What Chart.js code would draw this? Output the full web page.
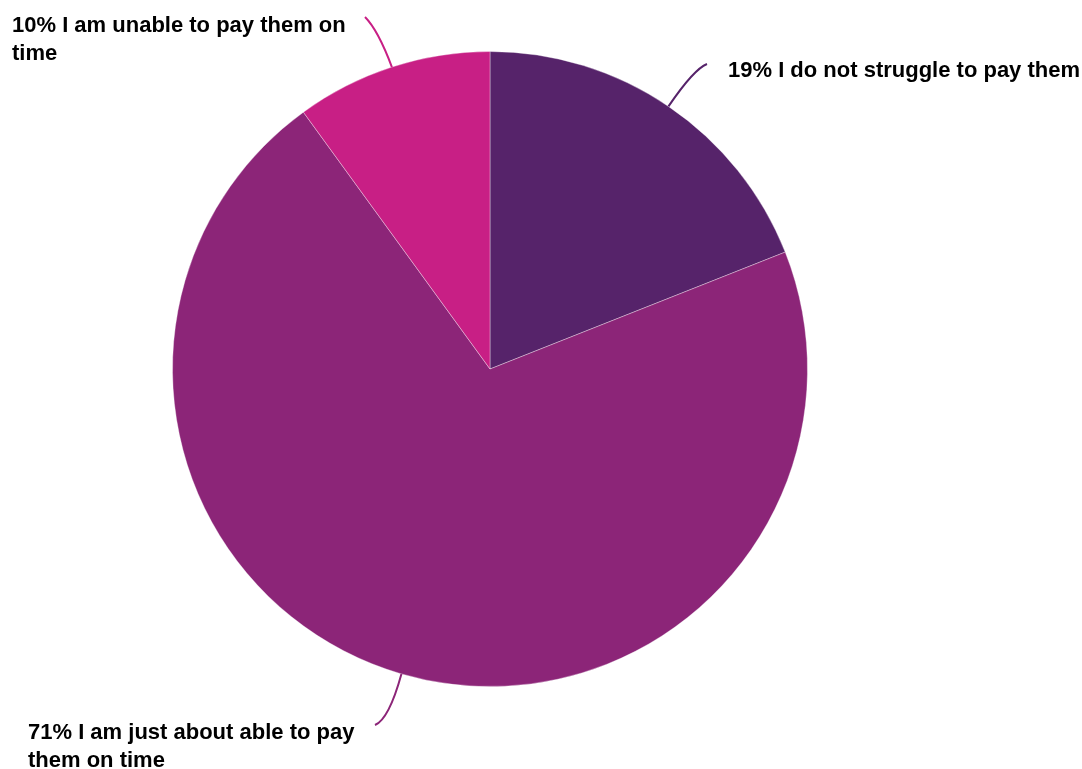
<!DOCTYPE html>
<html>
<head>
<meta charset="utf-8">
<script src="https://cdn.jsdelivr.net/npm/chart.js@4"></script>
<style>
    body { margin: 0; background: #fff; }
    #wrap { width: 1082px; height: 769px; }
</style>
</head>
<body>
<div id="wrap"><canvas id="pieChart" width="1082" height="769"></canvas></div>
<script>
const categories = ['I do not struggle to pay them', 'I am just about able to pay them on time', 'I am unable to pay them on time'];
const values = [19, 71, 10];
const colors = ['#56236A', '#8C2578', '#C81F85'];

// where each label sits: end of the leader line, control point, text x/baseline, wrap width
const callouts = [
    { end: [707, 64], ctrl: [694, 69], x: 728, y: 77, wrap: 1000 },
    { end: [375, 725], ctrl: [389, 719], x: 28, y: 739, wrap: 345 },
    { end: [365, 17], ctrl: [378, 30], x: 12, y: 32, wrap: 345 }
];

function wrapText(ctx, text, maxW) {
    const words = text.split(' ');
    const lines = [];
    let line = '';
    words.forEach(w => {
        const t = line ? line + ' ' + w : w;
        if (ctx.measureText(t).width > maxW && line) {
            lines.push(line);
            line = w;
        } else {
            line = t;
        }
    });
    if (line) lines.push(line);
    return lines;
}

const calloutPlugin = {
    id: 'callouts',
    afterDraw(chart) {
        const ctx = chart.ctx;
        const meta = chart.getDatasetMeta(0);
        ctx.save();
        meta.data.forEach((arc, i) => {
            const c = callouts[i];
            const mid = (arc.startAngle + arc.endAngle) / 2;
            const sx = arc.x + Math.cos(mid) * arc.outerRadius;
            const sy = arc.y + Math.sin(mid) * arc.outerRadius;
            ctx.beginPath();
            ctx.moveTo(sx, sy);
            ctx.quadraticCurveTo(c.ctrl[0], c.ctrl[1], c.end[0], c.end[1]);
            ctx.strokeStyle = colors[i];
            ctx.lineWidth = 2;
            ctx.stroke();

            ctx.font = 'bold 22px "Liberation Sans", Arial, sans-serif';
            ctx.fillStyle = '#000';
            ctx.textBaseline = 'alphabetic';
            ctx.textAlign = 'left';
            const lines = wrapText(ctx, `${values[i]}% ${categories[i]}`, c.wrap);
            lines.forEach((l, j) => ctx.fillText(l, c.x, c.y + j * 28));
        });
        ctx.restore();
    }
};

new Chart(document.getElementById('pieChart'), {
    type: 'pie',
    data: {
        labels: categories,
        datasets: [{
            data: values,
            backgroundColor: colors,
            borderColor: 'rgba(255,255,255,0.35)',
            borderWidth: 1
        }]
    },
    options: {
        responsive: false,
        animation: false,
        layout: { padding: { left: 172, right: 274, top: 51, bottom: 82 } },
        plugins: {
            legend: { display: false },
            tooltip: { enabled: false }
        }
    },
    plugins: [calloutPlugin]
});
</script>
</body>
</html>
